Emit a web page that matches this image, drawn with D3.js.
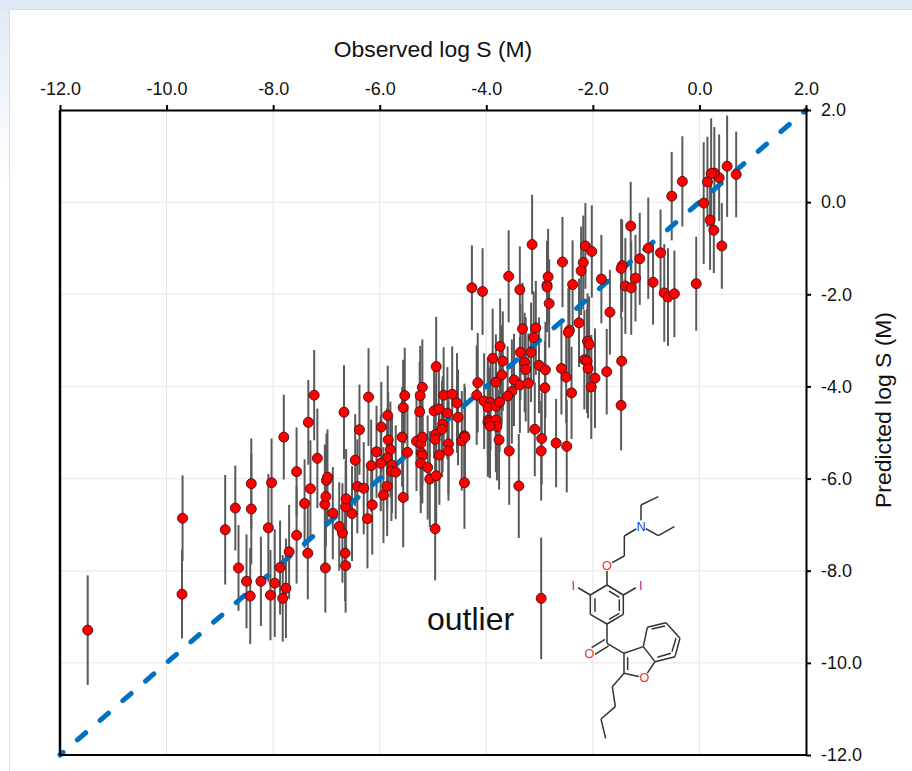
<!DOCTYPE html>
<meta charset="utf-8">
<style>
  body { margin: 0; padding: 0; background: #fff; overflow: hidden; }
  svg { display: block; }
  text { font-family: "Liberation Sans", Arial, sans-serif; fill: #111; }
  .tick text { font-size: 18px; }
  .axis-title { font-size: 22.9px; }
</style>
<script src="https://d3js.org/d3.v7.min.js"></script>
<body>
<div id="my_dataviz"></div>
<script>

// values: observed, predicted, half length of the error bar
var observed = [
  -11.48,-9.70,-9.71,-8.90,-8.71,-8.41,-8.41,-8.03,-7.80,-7.56,-8.09,-7.56,-7.70,-7.35,-8.65,-8.50,-8.43,-8.23,-8.05,-7.97,
  -7.87,-7.76,-7.82,-7.02,-6.64,-6.65,-6.70,-6.76,-6.88,-6.52,-6.23,-6.64,-6.63,-7.03,-7.01,-7.41,-7.30,-7.00,-6.98,-6.42,
  -6.30,-7.23,-7.34,-6.67,-6.21,-6.38,-5.97,-7.17,-6.46,-6.06,-5.85,-5.53,-5.56,-5.20,-5.24,-5.25,-4.94,-4.80,-4.64,-4.55,
  -4.98,-4.89,-4.73,-4.53,-5.58,-5.84,-5.80,-5.86,-5.98,-6.16,-5.77,-5.78,-5.70,-5.48,-5.31,-5.23,-5.20,-5.22,-5.20,-5.23,
  -5.10,-5.06,-4.94,-4.95,-4.96,-4.82,-4.83,-4.71,-4.71,-4.88,-4.46,-4.41,-4.40,-4.41,-4.16,-4.18,-5.86,-5.93,-5.56,-6.14,
  -4.96,-3.88,-3.82,-3.74,-4.04,-3.92,-3.97,-3.82,-3.75,-3.96,-3.97,-3.94,-3.82,-3.80,-3.93,-3.76,-3.57,-3.39,-4.27,-4.07,
  -3.58,-3.14,-3.37,-2.84,-2.86,-2.86,-2.82,-2.57,-2.14,-2.02,-2.18,-2.22,-2.38,-1.84,-1.45,-1.47,-1.12,-0.96,-0.73,-1.29,
  -1.20,-1.39,-1.28,-0.87,-0.66,-0.59,-0.47,-0.06,-1.68,-2.26,-2.44,-2.46,-3.32,-3.07,-3.11,-3.36,-3.16,-3.28,-3.26,-3.01,
  -2.89,-3.69,-3.71,-3.48,-3.37,-3.21,-3.52,-3.60,-2.90,-2.59,-2.50,-2.40,-2.10,-2.07,-2.16,-2.11,-2.09,-1.96,-2.03,-1.74,
  -1.46,-1.47,-3.09,-2.96,-2.97,-2.69,-2.49,-2.97,0.52,0.69,0.37,0.28,0.22,0.15,0.08,0.20,0.27,0.42,-0.32,-0.52
];
var predicted = [
  -9.29,-6.86,-8.51,-7.11,-6.64,-6.11,-6.66,-6.09,-5.10,-5.85,-7.07,-7.23,-7.59,-7.62,-7.94,-8.23,-8.55,-8.23,-8.53,-8.27,
  -7.93,-8.38,-8.60,-7.94,-7.89,-7.62,-7.18,-7.04,-6.75,-6.76,-6.87,-6.61,-6.44,-6.56,-6.39,-6.54,-6.22,-6.04,-5.97,-6.17,
  -6.21,-4.19,-4.78,-4.56,-4.23,-4.94,-4.88,-5.56,-5.60,-5.42,-4.63,-4.20,-4.46,-4.02,-4.20,-4.55,-3.57,-4.19,-4.17,-4.36,
  -4.53,-4.49,-4.58,-4.67,-5.10,-5.16,-5.37,-5.55,-5.67,-5.72,-5.71,-5.84,-5.86,-5.43,-5.19,-5.24,-5.10,-5.44,-5.50,-5.67,
  -5.76,-6.01,-5.94,-5.04,-5.15,-4.82,-4.93,-5.25,-5.40,-5.49,-5.18,-5.07,-5.10,-6.09,-3.92,-4.19,-6.17,-6.36,-6.41,-6.57,
  -7.09,-3.39,-3.91,-3.13,-4.32,-4.35,-4.45,-4.43,-4.34,-4.73,-4.77,-4.79,-4.73,-4.87,-4.86,-5.16,-5.40,-6.16,-1.86,-1.94,
  -1.61,-0.92,-1.90,-1.62,-1.80,-1.84,-2.20,-1.30,-0.95,-1.07,-1.31,-1.49,-1.79,-1.67,-1.38,-1.44,-1.23,-1.00,-1.10,-0.52,
  -1.65,-1.82,-1.86,-1.74,-1.97,-2.06,-1.99,-1.77,-2.39,-2.62,-2.78,-2.83,-2.75,-2.73,-2.94,-3.26,-3.26,-3.48,-3.63,-3.54,
  -3.64,-3.45,-3.75,-3.86,-3.97,-3.93,-4.11,-4.21,-4.03,-3.61,-3.80,-4.14,-3.02,-3.09,-3.42,-3.45,-3.61,-3.82,-4.01,-3.68,
  -3.45,-4.41,-4.93,-5.13,-5.40,-5.23,-5.30,-8.60,0.78,0.60,0.53,0.63,0.62,0.44,-0.02,-0.39,-0.61,-0.95,0.45,0.13
];
var errorBar = [
  1.19,0.93,0.96,1.19,0.92,0.98,1.20,0.96,0.92,0.96,1.17,1.05,1.02,1.00,0.93,1.02,1.04,0.97,0.98,1.17,
  1.02,1.08,0.94,0.97,1.02,1.04,1.08,0.96,1.00,1.03,1.08,1.00,1.08,1.30,1.08,0.96,1.05,1.02,1.04,1.02,
  1.00,0.98,0.92,1.02,1.06,0.98,0.98,1.08,1.00,1.00,1.08,1.04,1.04,1.04,1.08,1.08,1.08,1.04,1.04,1.08,
  1.04,1.02,1.00,1.04,1.08,1.04,1.04,1.08,1.04,1.00,1.04,1.08,1.02,1.04,1.08,1.13,1.04,1.08,1.04,1.08,
  1.13,1.04,1.08,1.08,1.04,1.04,1.04,1.08,1.08,1.08,1.08,1.13,1.08,1.00,1.08,1.08,1.08,1.04,1.08,1.08,
  1.12,1.08,1.04,1.04,1.04,1.04,1.08,1.08,1.08,1.17,1.19,1.19,1.13,1.17,1.13,1.08,1.17,1.13,0.92,0.94,
  1.00,1.08,0.94,1.04,0.96,0.98,0.96,0.98,0.93,1.00,1.02,0.96,0.96,0.96,1.00,1.08,1.00,1.10,0.94,0.96,
  0.94,1.04,1.02,0.92,1.06,1.06,0.94,1.02,0.92,0.96,0.96,0.96,1.00,1.02,1.00,1.04,1.08,1.08,1.13,1.04,
  1.04,1.08,1.08,1.00,1.04,1.08,1.13,1.08,1.02,1.00,1.00,1.00,1.04,1.04,1.08,1.13,1.08,1.08,1.13,0.93,
  0.96,0.98,1.02,1.00,1.08,0.96,1.00,1.32,1.10,0.93,0.94,1.00,1.20,0.98,1.32,1.08,0.93,0.93,0.98,0.96
];
var tickValues = [-12, -10, -8, -6, -4, -2, 0, 2];
var unityLine = [-12, 2];

// molecule sketch, in its own little coordinate space
var molAtoms = {
  a: [355,50], b: [303,75], n: [303,138], c: [355,167], d: [403,140], e: [253,168], f: [253,228], o1: [201,256],
  r1: [201,315], r2: [250,345], r3: [250,403], r4: [201,432], r5: [151,403], r6: [151,345],
  i1: [100,315], i2: [302,315], k: [201,490], o2: [148,521], g: [252,520], h: [252,580], o3: [313,593],
  j: [345,545], l: [310,500], m: [322,442], p: [378,428], q: [420,475], s: [405,530],
  t: [217,620], u: [226,680], v: [183,717], w: [197,775]
};
var molBonds = [
  ["a","b"],["b","n"],["n","c"],["c","d"],["n","e"],["e","f"],["f","o1"],["o1","r1"],
  ["r1","r2"],["r2","r3"],["r3","r4"],["r4","r5"],["r5","r6"],["r6","r1"],["r6","i1"],["r2","i2"],
  ["r4","k"],["k","g"],["g","h"],["h","o3"],["o3","j"],["j","l"],["l","g"],
  ["l","m"],["m","p"],["p","q"],["q","s"],["s","j"],["h","t"],["t","u"],["u","v"],["v","w"]
];
var molInnerBonds = [
  [[207,333],[238,352]],[[238,358],[238,393]],[[207,418],[238,400]],[[165,355],[165,395]],
  [[263,532],[263,570]],[[335,447],[375,438]],[[408,475],[396,515]],[[352,532],[393,520]],
  [[195,478],[155,503]],[[206,498],[165,523]]
];
var molLabels = [
  {t: "N", at: "n", c: "#2233ee"}, {t: "O", at: "o1", c: "#f03030"}, {t: "O", at: "o2", c: "#f03030"},
  {t: "O", at: "o3", c: "#f03030"}, {t: "I", at: "i1", c: "#9a2aa8"}, {t: "I", at: "i2", c: "#9a2aa8"}
];

var W = 912, H = 771;
var margin = {top: 110, right: 106, bottom: 16, left: 60},
    width = W - margin.left - margin.right,
    height = H - margin.top - margin.bottom;

var root = d3.select("#my_dataviz").append("svg")
    .attr("width", W)
    .attr("height", H);

// page behind the card
var grad = root.append("defs").append("linearGradient")
    .attr("id", "pageBg").attr("x1", 0).attr("y1", 0).attr("x2", 0).attr("y2", 1);
grad.append("stop").attr("offset", "0%").attr("stop-color", "#dfe9f5");
grad.append("stop").attr("offset", "100%").attr("stop-color", "#ffffff");
root.append("rect").attr("width", W).attr("height", 180).attr("fill", "url(#pageBg)");
root.append("rect").attr("width", W).attr("height", 10).attr("fill", "#dfe9f5");
root.append("rect").attr("x", 9.5).attr("y", 9.5).attr("width", W).attr("height", H)
    .attr("fill", "#fff").attr("stroke", "#dcdcdc");

var svg = root.append("g")
    .attr("transform", "translate(" + margin.left + "," + margin.top + ")");

var x = d3.scaleLinear().domain([-12, 2]).range([0, width]);
var y = d3.scaleLinear().domain([-12, 2]).range([height, 0]);

// grid
svg.append("g").selectAll("line").data(tickValues).enter().append("line")
    .attr("x1", function (d) { return x(d); })
    .attr("x2", function (d) { return x(d); })
    .attr("y1", 0).attr("y2", height)
    .attr("stroke", "#e6e6e6");
svg.append("g").selectAll("line").data(tickValues).enter().append("line")
    .attr("x1", 0).attr("x2", width)
    .attr("y1", function (d) { return y(d); })
    .attr("y2", function (d) { return y(d); })
    .attr("stroke", "#eeeeee").attr("stroke-width", 1.5);

// error bars
svg.append("g").selectAll("line").data(observed).enter().append("line")
    .attr("x1", function (d) { return x(d); })
    .attr("x2", function (d) { return x(d); })
    .attr("y1", function (d, i) { return y(predicted[i] + errorBar[i]); })
    .attr("y2", function (d, i) { return y(predicted[i] - errorBar[i]); })
    .attr("stroke", "#5a5a5a")
    .attr("stroke-width", 2);

// unity line
svg.append("line")
    .attr("x1", x(unityLine[0])).attr("y1", y(unityLine[0]))
    .attr("x2", x(unityLine[1])).attr("y2", y(unityLine[1]))
    .attr("stroke", "#0070c0")
    .attr("stroke-width", 5)
    .attr("stroke-linecap", "round")
    .attr("stroke-dasharray", "11 19")
    .attr("stroke-dashoffset", 7);

// points
svg.append("g").selectAll("circle").data(observed).enter().append("circle")
    .attr("cx", function (d) { return x(d); })
    .attr("cy", function (d, i) { return y(predicted[i]); })
    .attr("r", 5)
    .attr("fill", "#ff0000")
    .attr("stroke", "#4a1010")
    .attr("stroke-width", 0.9);

// axes, with a plain hyphen on the negative labels like the original
var fmt = function (d) { return d.toFixed(1); };
var xAxis = svg.append("g")
    .call(d3.axisTop(x).tickValues(tickValues).tickFormat(fmt).tickSize(5).tickPadding(10).tickSizeOuter(0));
var yAxis = svg.append("g")
    .attr("transform", "translate(" + width + ",0)")
    .call(d3.axisRight(y).tickValues(tickValues).tickFormat(fmt).tickSize(5).tickPadding(10).tickSizeOuter(0));
xAxis.selectAll("line").attr("stroke", "#000").attr("stroke-width", 2);
yAxis.selectAll("line").attr("stroke", "#000").attr("stroke-width", 2);
xAxis.select(".domain").attr("stroke", "#000").attr("stroke-width", 2);
yAxis.select(".domain").attr("stroke", "#000").attr("stroke-width", 2);
svg.append("line").attr("x1", 0).attr("x2", 0).attr("y1", 0).attr("y2", height)
    .attr("stroke", "#000").attr("stroke-width", 2.5);
svg.append("line").attr("x1", 0).attr("x2", width).attr("y1", height).attr("y2", height)
    .attr("stroke", "#000").attr("stroke-width", 2);

// titles
svg.append("text")
    .attr("class", "axis-title")
    .attr("x", width / 2)
    .attr("y", -53)
    .attr("text-anchor", "middle")
    .text("Observed log S (M)");
svg.append("text")
    .attr("class", "axis-title")
    .attr("transform", "rotate(-90)")
    .attr("x", -300)
    .attr("y", width + 85)
    .attr("text-anchor", "middle")
    .text("Predicted log S (M)");

svg.append("text")
    .attr("x", 367)
    .attr("y", 520)
    .style("font-size", "32px")
    .text("outlier");

// molecule
var mol = root.append("g").attr("transform", "translate(540,480) scale(0.3333)");
mol.append("g").selectAll("line").data(molBonds).enter().append("line")
    .attr("x1", function (d) { return molAtoms[d[0]][0]; })
    .attr("y1", function (d) { return molAtoms[d[0]][1]; })
    .attr("x2", function (d) { return molAtoms[d[1]][0]; })
    .attr("y2", function (d) { return molAtoms[d[1]][1]; })
    .attr("stroke", "#333").attr("stroke-width", 4.5);
mol.append("g").selectAll("line").data(molInnerBonds).enter().append("line")
    .attr("x1", function (d) { return d[0][0]; })
    .attr("y1", function (d) { return d[0][1]; })
    .attr("x2", function (d) { return d[1][0]; })
    .attr("y2", function (d) { return d[1][1]; })
    .attr("stroke", "#333").attr("stroke-width", 4.5);
mol.append("g").selectAll("circle").data(molLabels).enter().append("circle")
    .attr("cx", function (d) { return molAtoms[d.at][0]; })
    .attr("cy", function (d) { return molAtoms[d.at][1]; })
    .attr("r", 17).attr("fill", "#fff");
mol.append("g").selectAll("text").data(molLabels).enter().append("text")
    .attr("x", function (d) { return molAtoms[d.at][0]; })
    .attr("y", function (d) { return molAtoms[d.at][1]; })
    .attr("dy", "0.36em")
    .attr("text-anchor", "middle")
    .style("font-size", "38px")
    .style("fill", function (d) { return d.c; })
    .text(function (d) { return d.t; });

</script>
</body>
